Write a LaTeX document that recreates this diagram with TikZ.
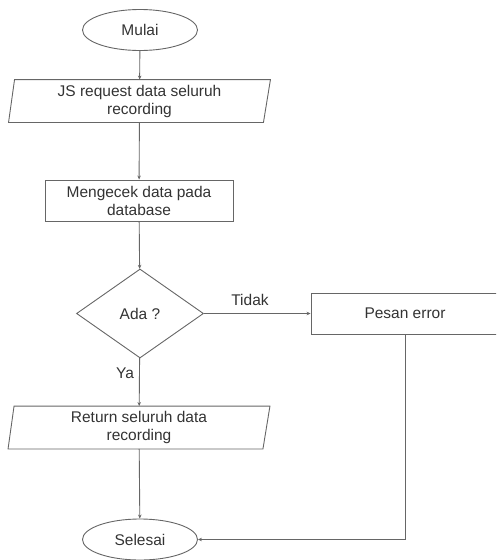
\documentclass[tikz,border=0pt]{standalone}
\usepackage{fontspec}
\setmainfont{Liberation Sans}
\usetikzlibrary{shapes.geometric,arrows.meta}
\definecolor{edge}{HTML}{666666}
\definecolor{ink}{HTML}{333333}
\tikzset{
  base/.style={draw=edge, line width=0.9pt, text=ink, font=\fontsize{15.5}{18}\selectfont, align=center, inner sep=0pt},
  terminal/.style={base, ellipse, minimum width=115pt, minimum height=41pt},
  process/.style={base, rectangle, minimum width=188pt, minimum height=41pt},
  iobox/.style={base, draw=none, rectangle, minimum width=261pt, minimum height=42pt},
  decision/.style={base, diamond, minimum width=127pt, minimum height=89pt, aspect=1.43},
  flow/.style={draw=edge, line width=0.9pt, -{Stealth[length=4pt,width=3.5pt]}},
  lbl/.style={text=ink, font=\fontsize{15.5}{18}\selectfont, inner sep=0pt}
}
\newcommand{\slantbox}[1]{%
  \draw[draw=edge, line width=0.9pt]
    ([xshift=6pt]#1.north west) -- (#1.north east) --
    ([xshift=-7pt]#1.south east) -- (#1.south west) -- cycle;}
\begin{document}
\begin{tikzpicture}[x=1pt, y=-1pt]
\useasboundingbox (0,0) rectangle (496,560);
\clip (0,0) rectangle (496,560);

\node[terminal] (mulai) at (140,30) {Mulai};
\node[iobox] (req) at (139.5,101) {JS request data seluruh\\recording};
\slantbox{req}
\node[process] (cek) at (139,200.5) {Mengecek data pada\\database};
\node[decision] (ada) at (140,313.5) {Ada ?};
\node[process] (err) at (405,313.5) {Pesan error};
\node[iobox] (ret) at (139,427.5) {Return seluruh data\\recording};
\slantbox{ret}
\node[terminal] (selesai) at (140,539.5) {Selesai};

\draw[flow] (mulai) -- (req);
\draw[flow] (req) -- (cek);
\draw[flow] (cek) -- (ada);
\draw[flow] (ada) -- (ret);
\draw[flow] (ret) -- (selesai);
\draw[flow] (ada.east) -- (err.west);
\draw[flow] (err.south) |- (selesai.east);

\node[lbl] (tidak) at (250,300) {Tidak};
\node[lbl] (ya) at (125,373) {Ya};
\end{tikzpicture}
\end{document}
